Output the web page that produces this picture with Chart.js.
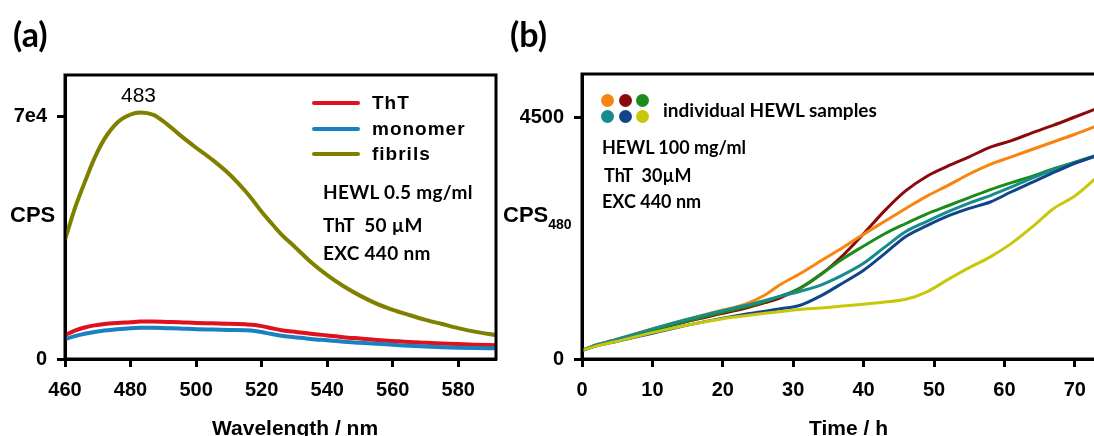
<!DOCTYPE html>
<html>
<head>
<meta charset="utf-8">
<script src="https://cdn.jsdelivr.net/npm/chart.js@4.4.0/dist/chart.umd.min.js"></script>
<style>
  html, body { margin: 0; padding: 0; background: #fff; }
  body { position: relative; width: 1094px; height: 436px; overflow: hidden; }
  canvas { position: absolute; top: 0; }
  #chartA { left: 0; }
  #chartB { left: 520px; }
  .t { position: absolute; white-space: nowrap; color: #000; z-index: 2; }
  .arial { font-family: 'Liberation Sans', Arial, sans-serif; font-weight: bold; }
  .cal { font-family: Lato, 'Open Sans', sans-serif; font-weight: bold; }
  .panel { font-family: Lato, sans-serif; font-weight: bold; font-size: 34px; line-height: 34px; }
  .lg-line { position: absolute; width: 48px; height: 4px; border-radius: 2px; z-index: 2; }
  .dot { position: absolute; width: 13px; height: 13px; border-radius: 50%; z-index: 2; }
</style>
</head>
<body>
<canvas id="chartA" width="520" height="436"></canvas>
<canvas id="chartB" width="590" height="436"></canvas>

<!-- panel (a) texts -->
<div class="t panel" style="left:13px; top:17px;">(a)</div>
<div class="t arial" style="left:10px; top:204px; font-size:22px; line-height:22px;">CPS</div>
<div class="t" style="left:121px; top:84px; font-family:'Liberation Sans',Arial,sans-serif; font-size:21px; line-height:21px;">483</div>
<div class="lg-line" style="left:312px; top:101px; background:#e0101c;"></div>
<div class="lg-line" style="left:312px; top:127px; background:#1a80c0;"></div>
<div class="lg-line" style="left:312px; top:152px; background:#808000;"></div>
<div class="t arial" style="left:372px; top:93px; font-size:19px; line-height:19px; letter-spacing:1px;">ThT</div>
<div class="t arial" style="left:372px; top:119px; font-size:19px; line-height:19px; letter-spacing:1px;">monomer</div>
<div class="t arial" style="left:372px; top:144px; font-size:19px; line-height:19px; letter-spacing:1px;">fibrils</div>
<div class="t cal" style="left:323px; top:182px; font-size:19px; line-height:19px; letter-spacing:0.3px;">HEWL 0.5 mg/ml</div>
<div class="t cal" style="left:323px; top:215px; font-size:19px; line-height:19px; letter-spacing:0.3px;">ThT&nbsp; 50 µM</div>
<div class="t cal" style="left:323px; top:243px; font-size:19px; line-height:19px; letter-spacing:0.3px;">EXC 440 nm</div>
<div class="t arial" style="left:212px; top:417px; font-size:21px; line-height:21px;">Wavelength / nm</div>

<!-- panel (b) texts -->
<div class="t panel" style="left:510px; top:17px;">(b)</div>
<div class="t arial" style="left:503px; top:204px; font-size:22px; line-height:22px;">CPS<sub style="font-size:14px; vertical-align:-7px;">480</sub></div>
<div class="dot" style="left:601px; top:94px; background:#f7850f;"></div>
<div class="dot" style="left:619px; top:94px; background:#8b0a0a;"></div>
<div class="dot" style="left:636px; top:94px; background:#1a8c1a;"></div>
<div class="dot" style="left:601px; top:110px; background:#168c8c;"></div>
<div class="dot" style="left:619px; top:110px; background:#12448c;"></div>
<div class="dot" style="left:636px; top:110px; background:#c8c80a;"></div>
<div class="t cal" style="left:663px; top:100px; font-size:19px; line-height:19px;">individual HEWL samples</div>
<div class="t cal" style="left:602px; top:138px; font-size:18px; line-height:18px;">HEWL 100 mg/ml</div>
<div class="t cal" style="left:604px; top:166px; font-size:18px; line-height:18px;">ThT&nbsp; 30µM</div>
<div class="t cal" style="left:602px; top:192px; font-size:18px; line-height:18px;">EXC 440 nm</div>
<div class="t arial" style="left:809px; top:417px; font-size:21px; line-height:21px;">Time / h</div>

<script>
// --- panel (a): emission spectra ---
const wavelength = [460, 463, 466, 469, 472, 476, 480, 483, 487, 491, 495, 500, 505, 510, 515, 518, 520, 523, 526, 530, 535, 540, 545, 550, 555, 560, 565, 570, 575, 580, 585, 591.5];
const thtCps = [6900, 8200, 9100, 9700, 10100, 10400, 10600, 10800, 10800, 10700, 10600, 10400, 10300, 10200, 10000, 9800, 9500, 8900, 8300, 7900, 7300, 6800, 6300, 5900, 5500, 5200, 4900, 4700, 4500, 4300, 4150, 4000];
const monomerCps = [5700, 6600, 7300, 7800, 8200, 8600, 8900, 9000, 9000, 8900, 8800, 8600, 8500, 8400, 8300, 8100, 7800, 7200, 6700, 6300, 5800, 5400, 5000, 4700, 4400, 4100, 3850, 3600, 3400, 3250, 3150, 3100];
const fibrilsCps = [34400, 43500, 51000, 58000, 63500, 68300, 70600, 71200, 70500, 67900, 64700, 61000, 57500, 53500, 48500, 45000, 42500, 39200, 36000, 32500, 28000, 24200, 21000, 18300, 16000, 14200, 12700, 11300, 10100, 8900, 7900, 6900];
const xTicksA = [460, 480, 500, 520, 540, 560, 580];
const yTicksA = [0, 70000];
const yTickLabelsA = ['0', '7e4'];

// --- panel (b): ThT kinetics, six samples ---
const timeH = [0, 2, 5, 10, 15, 20, 23, 26, 28, 31, 34, 37, 40, 43, 46, 49, 52, 55, 58, 61, 64, 67, 70, 74];
const sampleOrange = [160, 260, 370, 560, 740, 910, 1010, 1190, 1370, 1590, 1830, 2070, 2320, 2560, 2800, 3030, 3230, 3440, 3620, 3760, 3900, 4040, 4180, 4380];
const sampleDarkRed = [160, 250, 350, 530, 700, 850, 940, 1050, 1130, 1320, 1580, 1920, 2330, 2760, 3130, 3400, 3590, 3760, 3940, 4060, 4210, 4350, 4500, 4700];
const sampleGreen = [160, 250, 360, 540, 710, 870, 960, 1070, 1160, 1320, 1580, 1860, 2100, 2330, 2520, 2700, 2850, 3000, 3150, 3280, 3400, 3540, 3660, 3830];
const sampleTeal = [160, 260, 370, 560, 740, 900, 990, 1090, 1160, 1260, 1380, 1560, 1780, 2080, 2370, 2560, 2740, 2900, 3040, 3200, 3370, 3520, 3650, 3820];
const sampleBlue = [160, 240, 330, 480, 630, 760, 830, 890, 930, 1000, 1180, 1410, 1650, 1960, 2280, 2480, 2660, 2800, 2920, 3110, 3290, 3470, 3640, 3820];
const sampleYellow = [160, 240, 330, 490, 630, 750, 800, 850, 880, 920, 950, 985, 1020, 1060, 1110, 1250, 1480, 1700, 1900, 2150, 2460, 2800, 3030, 3480];
const xTicksB = [0, 10, 20, 30, 40, 50, 60, 70];
const yTicksB = [0, 4500];
const yTickLabelsB = ['0', '4500'];

const FONT = "'Liberation Sans', Arial, sans-serif";
const pts = (xs, ys) => xs.map((x, i) => ({ x, y: ys[i] }));

// box around the plot area
const framePlugin = {
  id: 'frame',
  afterDraw(chart) {
    const { ctx, chartArea: a } = chart;
    ctx.save();
    ctx.strokeStyle = '#000';
    ctx.lineWidth = 3;
    ctx.strokeRect(a.left, a.top, a.right - a.left, a.bottom - a.top);
    ctx.restore();
  },
};

function line(data, color, width) {
  return {
    data,
    borderColor: color,
    borderWidth: width,
    pointRadius: 0,
    tension: 0.35,
    cubicInterpolationMode: 'monotone',
  };
}

function axes(xMin, xMax, xTicks, yMax, yTicks, yLabels, yWidth) {
  const grid = {
    drawOnChartArea: false,
    drawTicks: true,
    tickLength: 8,
    tickWidth: 3,
    color: '#000',
  };
  const border = { display: true, width: 3, color: '#000' };
  return {
    x: {
      type: 'linear',
      min: xMin,
      max: xMax,
      grid,
      border,
      afterBuildTicks: (s) => { s.ticks = xTicks.map((v) => ({ value: v })); },
      afterFit: (s) => { s.height = 77; s.paddingLeft = 0; s.paddingRight = 0; },
      ticks: {
        color: '#000',
        padding: 11,
        maxRotation: 0,
        font: { family: FONT, size: 20, weight: 'bold' },
        callback: (v) => String(v),
      },
    },
    y: {
      type: 'linear',
      min: 0,
      max: yMax,
      grid,
      border,
      afterBuildTicks: (s) => { s.ticks = yTicks.map((v) => ({ value: v })); },
      afterFit: (s) => { s.width = yWidth; s.paddingTop = 0; s.paddingBottom = 0; },
      ticks: {
        color: '#000',
        padding: 10,
        font: { family: FONT, size: 20, weight: 'bold' },
        callback: (v) => yLabels[yTicks.indexOf(v)],
      },
    },
  };
}

const common = {
  responsive: false,
  animation: false,
  devicePixelRatio: 1,
  plugins: { legend: { display: false }, tooltip: { enabled: false } },
};

new Chart(document.getElementById('chartA'), {
  type: 'line',
  data: {
    datasets: [
      line(pts(wavelength, fibrilsCps), '#808000', 4),
      line(pts(wavelength, monomerCps), '#1a80c0', 4),
      line(pts(wavelength, thtCps), '#e0101c', 4),
    ],
  },
  options: {
    ...common,
    layout: { padding: { top: 75, right: 24, left: 0, bottom: 0 } },
    scales: axes(460, 591.5, xTicksA, 82000, yTicksA, yTickLabelsA, 65),
  },
  plugins: [framePlugin],
});

new Chart(document.getElementById('chartB'), {
  type: 'line',
  data: {
    datasets: [
      line(pts(timeH, sampleYellow), '#c8c80a', 3),
      line(pts(timeH, sampleBlue), '#12448c', 3),
      line(pts(timeH, sampleTeal), '#168c8c', 3),
      line(pts(timeH, sampleGreen), '#1a8c1a', 3),
      line(pts(timeH, sampleOrange), '#f7850f', 3),
      line(pts(timeH, sampleDarkRed), '#8b0a0a', 3),
    ],
  },
  options: {
    ...common,
    layout: { padding: { top: 74, right: 7, left: 0, bottom: 0 } },
    scales: axes(0, 74, xTicksB, 5300, yTicksB, yTickLabelsB, 62),
  },
  plugins: [framePlugin],
});
</script>
</body>
</html>
